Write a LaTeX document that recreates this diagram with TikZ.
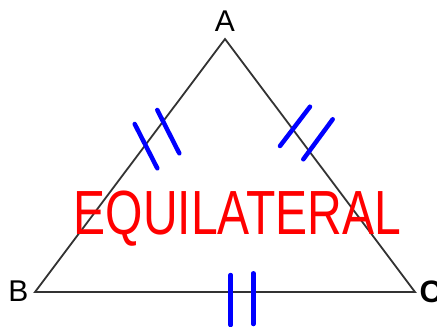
\documentclass[tikz,border=0pt]{standalone}
\usepackage{fontspec}
\setmainfont{Liberation Sans}
\begin{document}
\begin{tikzpicture}[x=1pt,y=-1pt,
  side/.style={draw=black!80,line width=1.8pt,line join=miter},
  tick/.style={draw=blue,line width=4.5pt,line cap=round},
  vlabel/.style={inner sep=0pt,font=\fontsize{30}{30}\selectfont}]
\useasboundingbox (0,0) rectangle (437,327);
\coordinate (A) at (225,39);
\coordinate (B) at (35,292);
\coordinate (C) at (415,292);
\draw[side] (A) -- (B) -- (C) -- cycle;
\node[vlabel] (lA) at (225,21.5) {A};
\node[vlabel] (lB) at (18.3,291) {B};
\node[vlabel,anchor=west,font=\fontsize{31}{31}\selectfont\bfseries] (lC) at (419.5,291.5) {C};
\node[inner sep=0pt,anchor=base,text=red,font=\fontsize{62.4}{62.4}\selectfont] (eq) at (237.5,234) {\scalebox{0.77}[1]{EQUILATERAL}};
% left side ticks
\coordinate (l1a) at (134.7,124); \coordinate (l1b) at (157.3,168.3);
\coordinate (l2a) at (157.3,110); \coordinate (l2b) at (179.3,153.3);
\draw[tick] (l1a) -- (l1b);
\draw[tick] (l2a) -- (l2b);
% right side ticks
\coordinate (r1a) at (310,106.7); \coordinate (r1b) at (280,146);
\coordinate (r2a) at (332.7,119.3); \coordinate (r2b) at (303.3,159.3);
\draw[tick] (r1a) -- (r1b);
\draw[tick] (r2a) -- (r2b);
% bottom ticks
\coordinate (b1a) at (230.7,275); \coordinate (b1b) at (230.7,325);
\coordinate (b2a) at (253.3,273.3); \coordinate (b2b) at (253.3,324);
\draw[tick] (b1a) -- (b1b);
\draw[tick] (b2a) -- (b2b);
\end{tikzpicture}
\end{document}
